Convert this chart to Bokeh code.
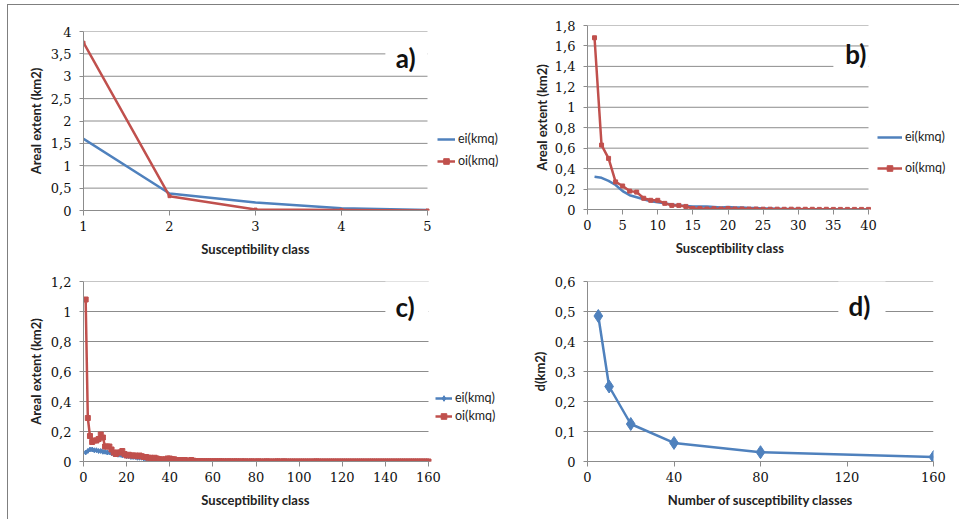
from bokeh.plotting import figure
from bokeh.models import (Range1d, FixedTicker, CustomJSTickFormatter, Legend,
                          LegendItem, Label, BoxAnnotation, Spacer)
from bokeh.layouts import row, column
from bokeh.embed import file_html
from bokeh.resources import INLINE

BLUE = "#4F81BD"
RED = "#C0504D"
GRID = "#8c8c8c"

# ---------------- data ----------------
a_x = [1, 2, 3, 4, 5]
a_ei = [1.60, 0.38, 0.18, 0.05, 0.01]
a_oi = [3.75, 0.32, 0.02, 0.01, 0.00]

b_x = list(range(1, 41))
b_ei = [0.32, 0.31, 0.28, 0.24, 0.18, 0.14, 0.12, 0.10, 0.08, 0.07,
        0.06, 0.05, 0.04, 0.035, 0.03, 0.03, 0.03, 0.025, 0.02, 0.025,
        0.02, 0.02, 0.015, 0.015, 0.01, 0.01, 0.008, 0.006, 0.005, 0.004,
        0.003, 0.003, 0.002, 0.002, 0.002, 0.001, 0.001, 0.001, 0.001, 0.001]
b_oi = [1.68, 0.63, 0.50, 0.27, 0.23, 0.18, 0.17, 0.11, 0.09, 0.09,
        0.06, 0.04, 0.04, 0.03, 0.01, 0.01, 0.005, 0.008, 0.005, 0.01,
        0.005, 0.005, 0.004, 0.004, 0.003, 0.003, 0.003, 0.002, 0.003, 0.002,
        0.002, 0.002, 0.001, 0.002, 0.001, 0.001, 0.001, 0.001, 0.001, 0.001]

c_x = list(range(1, 161))
c_ei = [0.06, 0.07, 0.08, 0.08, 0.075, 0.075, 0.07, 0.07, 0.065, 0.065,
        0.06, 0.06, 0.055, 0.05, 0.05, 0.045, 0.045, 0.04, 0.04, 0.035,
        0.035, 0.03, 0.03, 0.03, 0.025, 0.025, 0.025, 0.02, 0.02, 0.02,
        0.018, 0.017, 0.016, 0.015, 0.014, 0.013, 0.012, 0.012, 0.011, 0.01,
        0.01, 0.009, 0.009, 0.008, 0.008, 0.007, 0.007, 0.006, 0.006, 0.006,
        0.005, 0.005, 0.005, 0.004, 0.004, 0.004, 0.004, 0.003, 0.003, 0.003,
        0.003, 0.004, 0.003, 0.003, 0.002, 0.003, 0.002, 0.002, 0.002, 0.002,
        0.002, 0.002, 0.001, 0.002, 0.001, 0.001, 0.002, 0.001, 0.001, 0.001,
        0.001, 0.001, 0.001, 0.001, 0.001, 0.001, 0.001, 0.001, 0.001, 0.002,
        0.001, 0.001, 0.002, 0.001, 0.001, 0.001, 0.001, 0.001, 0.001, 0.001,
        0.001, 0.001, 0.001, 0.001, 0.001, 0.001, 0.001, 0.001, 0.001, 0.001,
        0.001, 0.001, 0.001, 0.001, 0.001, 0.001, 0.001, 0.001, 0.001, 0.001,
        0.001, 0.001, 0.001, 0.001, 0.001, 0.001, 0.001, 0.001, 0.001, 0.001,
        0.001, 0.001, 0.001, 0.001, 0.001, 0.001, 0.001, 0.001, 0.001, 0.001,
        0.001, 0.001, 0.001, 0.001, 0.001, 0.001, 0.001, 0.001, 0.001, 0.001,
        0.001, 0.001, 0.001, 0.001, 0.001, 0.001, 0.001, 0.001, 0.001, 0.001]
c_oi = [1.08, 0.29, 0.17, 0.13, 0.14, 0.14, 0.15, 0.18, 0.16, 0.10,
        0.10, 0.10, 0.08, 0.06, 0.05, 0.06, 0.06, 0.07, 0.05, 0.04,
        0.045, 0.04, 0.04, 0.04, 0.035, 0.04, 0.035, 0.03, 0.03, 0.025,
        0.025, 0.02, 0.025, 0.02, 0.015, 0.015, 0.01, 0.015, 0.02, 0.02,
        0.015, 0.015, 0.01, 0.01, 0.005, 0.01, 0.01, 0.005, 0.005, 0.01,
        0.005, 0.003, 0.002, 0.002, 0.001, 0.002, 0.001, 0.002, 0.001, 0.001,
        0.001, 0.001, 0.002, 0.001, 0.001, 0.0, 0.001, 0.001, 0.0, 0.001,
        0.001, 0.0, 0.001, 0.0, 0.001, 0.0, 0.0, 0.001, 0.0, 0.0,
        0.001, 0.0, 0.0, 0.0, 0.001, 0.0, 0.0, 0.0, 0.0, 0.001,
        0.0, 0.0, 0.001, 0.0, 0.0, 0.0, 0.0, 0.0, 0.0, 0.0,
        0.0, 0.0, 0.0, 0.0, 0.0, 0.0, 0.0, 0.001, 0.0, 0.0,
        0.0, 0.0, 0.0, 0.0, 0.0, 0.0, 0.0, 0.0, 0.0, 0.0,
        0.0, 0.0, 0.0, 0.0, 0.0, 0.0, 0.0, 0.0, 0.0, 0.0,
        0.0, 0.0, 0.0, 0.0, 0.0, 0.0, 0.0, 0.0, 0.0, 0.0,
        0.0, 0.0, 0.0, 0.0, 0.0, 0.0, 0.0, 0.0, 0.0, 0.0,
        0.0, 0.0, 0.0, 0.0, 0.0, 0.0, 0.0, 0.0, 0.0, 0.0]

d_x = [5, 10, 20, 40, 80, 160]
d_y = [0.485, 0.25, 0.125, 0.062, 0.031, 0.015]

a_xticks = [1, 2, 3, 4, 5]
a_yticks = [0, 0.5, 1, 1.5, 2, 2.5, 3, 3.5, 4]
b_xticks = [0, 5, 10, 15, 20, 25, 30, 35, 40]
b_yticks = [0, 0.2, 0.4, 0.6, 0.8, 1.0, 1.2, 1.4, 1.6, 1.8]
c_xticks = [0, 20, 40, 60, 80, 100, 120, 140, 160]
c_yticks = [0, 0.2, 0.4, 0.6, 0.8, 1.0, 1.2]
d_xticks = [0, 40, 80, 120, 160]
d_yticks = [0, 0.1, 0.2, 0.3, 0.4, 0.5, 0.6]

fmt_code = "return (Math.round(tick*10)/10).toString().replace('.', ',');"
EM = "\u2003"  # invisible em-space padding: centres the title on the data area


def make_fig(plot_w, extra_w, bl, br, bt, fh, bb, xt, yt, xlabel, ylabel,
             ylab_standoff):
    """plot_w: width of the data area; extra_w: room kept right of it
    (inside the frame) for the legend."""
    x0, x1 = xt[0], xt[-1]
    x_end = x1 + (x1 - x0) * extra_w / plot_w
    p = figure(frame_width=plot_w + extra_w, frame_height=fh,
               min_border_left=bl, min_border_right=br,
               min_border_top=bt, min_border_bottom=bb,
               x_range=Range1d(x0, x_end), y_range=Range1d(yt[0], yt[-1]),
               output_backend="svg", toolbar_location=None)
    p.outline_line_color = None
    p.background_fill_color = "white"
    p.border_fill_color = "white"
    p.xgrid.visible = False
    p.ygrid.visible = False
    # horizontal gridlines limited to the data area, at the y tick values
    g = p.segment(x0=[x0] * len(yt), y0=yt, x1=[x1] * len(yt), y1=yt,
                  line_color=GRID, line_width=1)
    g.level = "underlay"
    p.xaxis.ticker = FixedTicker(ticks=xt)
    p.yaxis.ticker = FixedTicker(ticks=yt)
    p.xaxis.bounds = (x0, x1)
    p.yaxis.formatter = CustomJSTickFormatter(code=fmt_code)
    for ax in (p.xaxis[0], p.yaxis[0]):
        ax.axis_line_color = GRID
        ax.major_tick_line_color = GRID
        ax.minor_tick_line_color = None
        ax.major_tick_in = 0
        ax.major_label_text_font = "DejaVu Serif"
        ax.major_label_text_font_size = "13px"
        ax.major_label_text_color = "#111111"
        ax.axis_label_text_font = "Lato"
        ax.axis_label_text_font_style = "bold"
        ax.axis_label_text_font_size = "13px"
        ax.axis_label_text_color = "#222222"
    p.xaxis.major_tick_out = 5
    p.xaxis.major_label_standoff = 5
    p.xaxis.axis_label_standoff = 7
    p.yaxis.major_tick_out = 4
    p.yaxis.major_label_standoff = 8
    p.yaxis.axis_label_standoff = ylab_standoff
    # pad the title on the right so that it centres on the data area
    n_pad = round(extra_w / 9.7)
    p.xaxis.axis_label = xlabel + EM * n_pad
    p.yaxis.axis_label = ylabel
    return p


def add_tag(p, text, x, y, box):
    l, r, b, t = box
    p.add_layout(BoxAnnotation(left=l, right=r, bottom=b, top=t,
                               fill_color="white", fill_alpha=1.0,
                               line_color=None, level="annotation"))
    p.add_layout(Label(x=x, y=y, text=text, text_font="Lato",
                       text_font_style="bold", text_font_size="26px",
                       text_baseline="middle", text_align="left",
                       text_color="#111111"))


def add_legend(p, items, loc, spacing, gw):
    leg = Legend(items=items, location=loc, border_line_color=None,
                 background_fill_alpha=0, padding=0, margin=0,
                 spacing=spacing, glyph_width=gw, glyph_height=14,
                 label_height=14, label_standoff=3,
                 label_text_font="Lato", label_text_font_size="12.5px",
                 label_text_color="#222222")
    p.add_layout(leg)


# ---------------- panel a ----------------
pa = make_fig(344, 78, 75, 5, 26, 179, 54, a_xticks, a_yticks,
              "Susceptibility class", "Areal extent (km2)", 4)
ra1 = pa.line(a_x, a_ei, line_color=BLUE, line_width=2.5)
ra2 = pa.line(a_x, a_oi, line_color=RED, line_width=2.5)
ra2m = pa.scatter(a_x, a_oi, marker="square", size=3, color=RED)
add_tag(pa, "a)", 4.63, 3.41, (4.51, 5.0, 3.2, 3.8))
add_legend(pa, [LegendItem(label="ei(kmq)", renderers=[ra1]),
                LegendItem(label="oi(kmq)", renderers=[ra2, ra2m])],
           (354, 42), 7, 18)

# ---------------- panel b ----------------
pb = make_fig(281, 82, 77, 9, 20, 184, 55, b_xticks, b_yticks,
              "Susceptibility class", "Areal extent (km2)", 2)
rb1 = pb.line(b_x, b_ei, line_color=BLUE, line_width=2.5)
rb2 = pb.line(b_x, b_oi, line_color=RED, line_width=2.5)
rb2m = pb.scatter(b_x, b_oi, marker="square", size=4, color=RED)
add_tag(pb, "b)", 36.7, 1.526, (35.0, 40, 1.3, 1.5))
add_legend(pb, [LegendItem(label="ei(kmq)", renderers=[rb1]),
                LegendItem(label="oi(kmq)", renderers=[rb2, rb2m])],
           (290, 34), 16, 25)

# ---------------- panel c ----------------
pc = make_fig(345, 77, 75, 5, 17, 180, 58, c_xticks, c_yticks,
              "Susceptibility class", "Areal extent (km2)", 4)
rc1 = pc.line(c_x, c_ei, line_color=BLUE, line_width=2.5)
rc1m = pc.scatter(c_x, c_ei, marker="diamond", size=5, color=BLUE)
rc2 = pc.line(c_x, c_oi, line_color=RED, line_width=2.5)
rc2m = pc.scatter(c_x, c_oi, marker="square", size=5, color=RED)
add_tag(pc, "c)", 144.7, 1.027, (140, 160, 0.95, 1.3))
add_legend(pc, [LegendItem(label="ei(kmq)", renderers=[rc1, rc1m]),
                LegendItem(label="oi(kmq)", renderers=[rc2, rc2m])],
           (352, 38), 3, 17)

# ---------------- panel d ----------------
pd_ = make_fig(346, 0, 77, 26, 17, 180, 58, d_xticks, d_yticks,
               "Number of susceptibility classes", "d(km2)", 4)
pd_.line(d_x, d_y, line_color=BLUE, line_width=2.5)
pd_.scatter(d_x, d_y, marker="diamond", size=13, color=BLUE)
add_tag(pd_, "d)", 120.7, 0.517, (116, 137.8, 0.47, 0.65))

grid = row(column(pa, pc), column(pb, pd_),
           styles={"border-top": "1px solid #7f7f7f",
                   "border-left": "1px solid #7f7f7f"})
layout = column(Spacer(height=4), row(Spacer(width=7), grid))

open("out.html", "w").write(file_html(layout, INLINE))
